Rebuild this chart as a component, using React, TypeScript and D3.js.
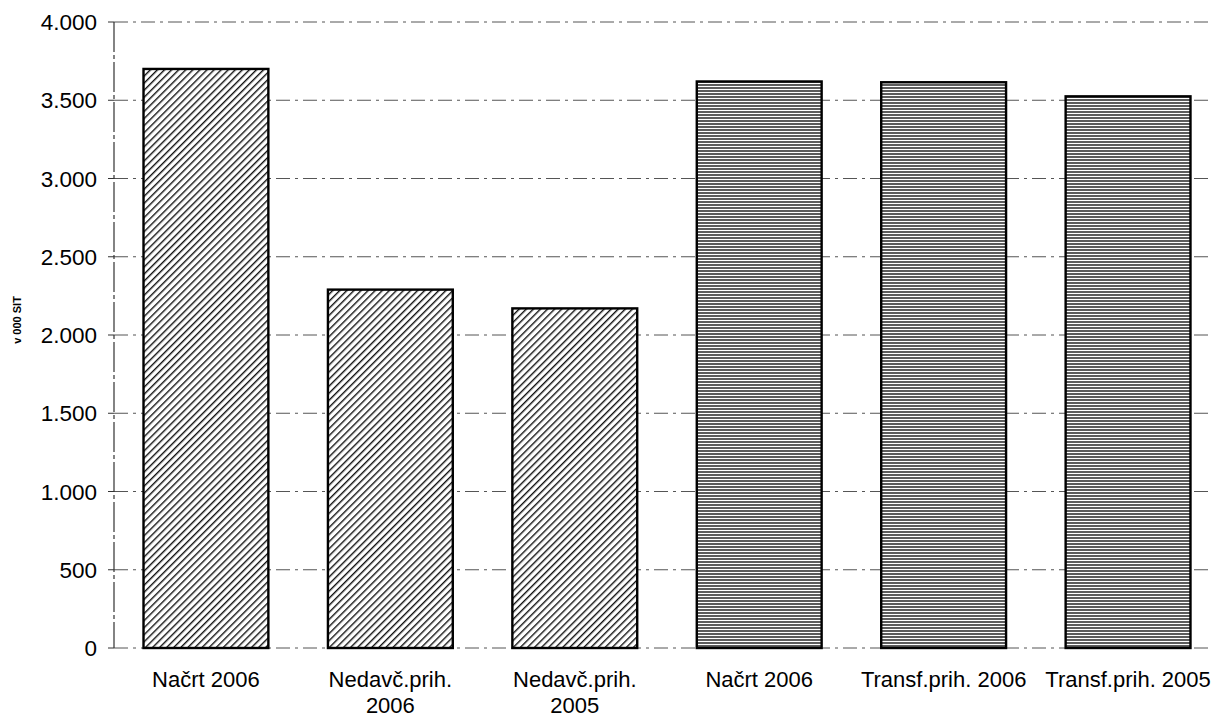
import React from "react";
import * as d3 from "d3";

const categories: string[][] = [
  ["Načrt 2006"],
  ["Nedavč.prih.", "2006"],
  ["Nedavč.prih.", "2005"],
  ["Načrt 2006"],
  ["Transf.prih. 2006"],
  ["Transf.prih. 2005"],
];
const values: number[] = [3700, 2290, 2170, 3620, 3615, 3525];
const patterns: string[] = ["diag", "diag", "diag", "horiz", "horiz", "horiz"];
const yTicks: number[] = [0, 500, 1000, 1500, 2000, 2500, 3000, 3500, 4000];
const yTitle = "v 000 SIT";

const W = 1214;
const H = 720;
const left = 114;
const right = 1220;
const gridRight = 1212;
const top = 22;
const bottom = 648;

export default function App() {
  const x = d3
    .scaleBand<number>()
    .domain(d3.range(categories.length))
    .range([left, right])
    .paddingInner(0.323)
    .paddingOuter(0.16);
  const y = d3.scaleLinear().domain([0, 4000]).range([bottom, top]);
  const fmt = (v: number) => d3.format(",")(v).replace(/,/g, ".");

  return (
    <svg
      width={W}
      height={H}
      style={{ position: "absolute", left: 0, top: 0, background: "#fff" }}
      fontFamily="'Liberation Sans', Arial, sans-serif"
    >
      <defs>
        <pattern id="diag" width="5" height="5" patternUnits="userSpaceOnUse" patternTransform="rotate(45)">
          <rect width="5" height="5" fill="#fff" />
          <line x1="0" y1="0" x2="0" y2="5" stroke="#111" strokeWidth="2.8" />
        </pattern>
        <pattern id="horiz" width="8" height="3" patternUnits="userSpaceOnUse">
          <rect width="8" height="3" fill="#fff" />
          <line x1="0" y1="1" x2="8" y2="1" stroke="#333" strokeWidth="1.6" />
        </pattern>
      </defs>

      {/* gridlines */}
      {yTicks.map((t) => (
        <line
          key={"g" + t}
          x1={left}
          x2={gridRight}
          y1={y(t)}
          y2={y(t)}
          stroke="#555"
          strokeWidth={1}
          strokeDasharray="14 5 3 5"
        />
      ))}

      {/* axis line */}
      <line x1={left} x2={left} y1={top} y2={bottom} stroke="#333" strokeWidth={1.2} strokeDasharray="30 3 4 3" />

      {/* ticks and labels */}
      {yTicks.map((t) => (
        <g key={"t" + t}>
          <line x1={left - 6} x2={left} y1={y(t)} y2={y(t)} stroke="#333" strokeWidth={1} />
          <text x={97} y={y(t)} dy="0.36em" textAnchor="end" fontSize={22.5} fill="#000">
            {fmt(t)}
          </text>
        </g>
      ))}

      {/* y title */}
      <text
        transform={`translate(21,320) rotate(-90)`}
        textAnchor="middle"
        fontSize={11}
        fontWeight="bold"
        fill="#000"
      >
        {yTitle}
      </text>

      {/* bars */}
      {values.map((v, i) => (
        <rect
          key={"b" + i}
          x={x(i)!}
          y={y(v)}
          width={x.bandwidth()}
          height={y(0) - y(v)}
          fill={`url(#${patterns[i]})`}
          stroke="#000"
          strokeWidth={2.4}
        />
      ))}

      {/* x labels */}
      {categories.map((lines, i) => (
        <text
          key={"l" + i}
          x={x(i)! + x.bandwidth() / 2}
          y={687}
          textAnchor="middle"
          fontSize={22}
          fill="#000"
        >
          {lines.map((ln, j) => (
            <tspan key={j} x={x(i)! + x.bandwidth() / 2} dy={j === 0 ? 0 : 26}>
              {ln}
            </tspan>
          ))}
        </text>
      ))}
    </svg>
  );
}
